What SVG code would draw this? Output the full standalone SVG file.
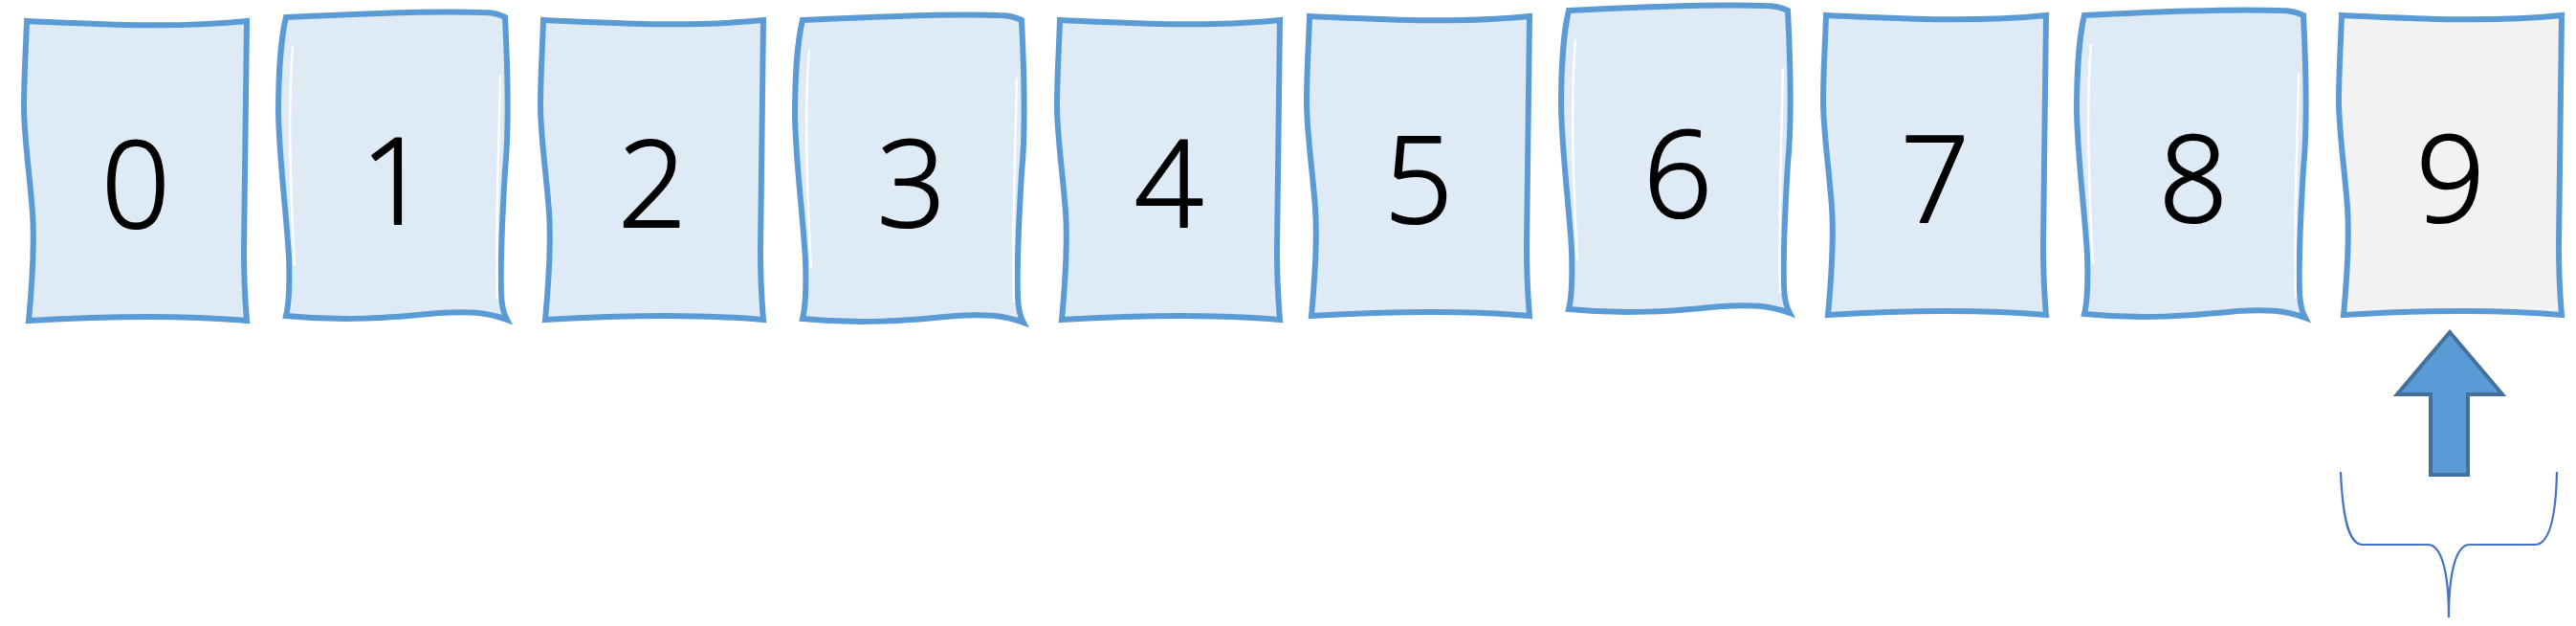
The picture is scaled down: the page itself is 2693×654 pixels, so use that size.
<svg xmlns="http://www.w3.org/2000/svg" width="2693" height="654" viewBox="0 0 2693 654">
<defs>
<style>
.card{stroke:#5B9BD5;stroke-width:6;stroke-linejoin:miter}
.blue{fill:#DEEAF6}
.grey{fill:#F2F2F2}
.hl{fill:none;stroke:#FFFFFF;stroke-width:2.5;opacity:0.9}
.dig{font-family:"Open Sans","Inter","DejaVu Sans",sans-serif;font-weight:300;font-size:126px;fill:#000000;stroke:#000000;stroke-width:2.2;stroke-linejoin:round;text-anchor:middle}
.arrow{fill:#5B9BD5;stroke:#41719C;stroke-width:4}
.brace{fill:none;stroke:#4472C4;stroke-width:2.2}
</style>
<path id="shapeA" d="M 0,0 C 70,3 150,8 230,0 C 228,100 227,200 227,240 C 227,280 229,300 230,313 C 150,306 70,309 2,313 C 6,270 8,230 6,200 C 3,160 -3,120 -3,90 C -3,60 -1,30 0,0 Z"/>
<path id="shapeB" d="M 0,0 C 60,-3 160,-7 205,-5 C 215,-5 225,-2 229,0 C 232,60 233,120 229,160 C 226,210 224,260 225,290 C 226,305 228,310 231,316 C 210,308 190,307 160,309 C 110,314 60,318 0,312 C 3,300 4,280 3,250 C 0,200 -7,150 -8,100 C -8,60 -5,20 0,0 Z"/>
<path id="hlB" d="M 7,30 C 2,90 4,170 9,260 M 224,60 C 222,150 219,220 221,295"/>
</defs>
<rect width="2693" height="654" fill="#FFFFFF"/>
<g id="card-0" transform="translate(28,22)"><use href="#shapeA" class="card blue"/><text class="dig" x="114" y="216">0</text></g>
<g id="card-1" transform="translate(299,18)"><use href="#shapeB" class="card blue"/><use href="#hlB" class="hl"/><text class="dig" x="114" y="216">1</text></g>
<g id="card-2" transform="translate(568,21)"><use href="#shapeA" class="card blue"/><text class="dig" x="114" y="216">2</text></g>
<g id="card-3" transform="translate(839,21)"><use href="#shapeB" class="card blue"/><use href="#hlB" class="hl"/><text class="dig" x="114" y="216">3</text></g>
<g id="card-4" transform="translate(1108,21)"><use href="#shapeA" class="card blue"/><text class="dig" x="114" y="216">4</text></g>
<g id="card-5" transform="translate(1369,17)"><use href="#shapeA" class="card blue"/><text class="dig" x="114" y="216">5</text></g>
<g id="card-6" transform="translate(1640,11)"><use href="#shapeB" class="card blue"/><use href="#hlB" class="hl"/><text class="dig" x="114" y="216">6</text></g>
<g id="card-7" transform="translate(1909,16)"><use href="#shapeA" class="card blue"/><text class="dig" x="114" y="216">7</text></g>
<g id="card-8" transform="translate(2179,16)"><use href="#shapeB" class="card blue"/><use href="#hlB" class="hl"/><text class="dig" x="114" y="216">8</text></g>
<g id="card-9" transform="translate(2448,16)"><use href="#shapeA" class="card grey"/><text class="dig" x="114" y="216">9</text></g>
<g id="connectors">
<polygon id="pointer-arrow" class="arrow" points="2561,347 2616,412 2580,412 2580,496 2541,496 2541,412 2506,412"/>
<path id="brace" class="brace" d="M 2447,493 C 2449,540 2455,569 2470,569 L 2538,569 C 2553,569 2560,600 2560,645 C 2560,600 2567,569 2582,569 L 2650,569 C 2665,569 2672,540 2673,493"/>
</g>
</svg>
